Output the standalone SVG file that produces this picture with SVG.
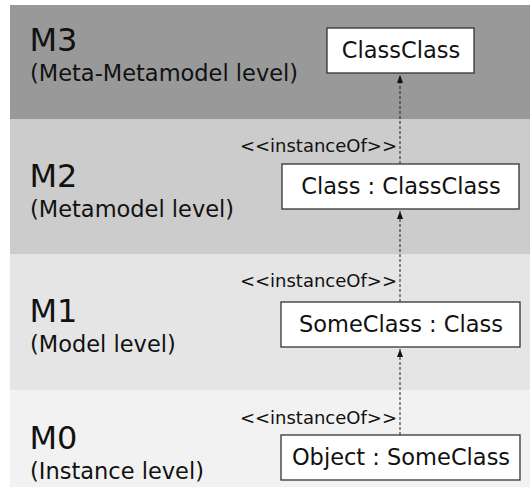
<svg xmlns="http://www.w3.org/2000/svg" width="530" height="497" viewBox="0 0 530 497">
<style>
.lvl{font-family:"DejaVu Sans",sans-serif;font-size:32px;fill:#111}
.sub{font-family:"DejaVu Sans",sans-serif;font-size:22.5px;fill:#111}
.box{fill:#fff;stroke:#333;stroke-width:1.3}
.bt{font-family:"DejaVu Sans",sans-serif;font-size:22.5px;fill:#111;text-anchor:middle}
.io{font-family:"DejaVu Sans",sans-serif;font-size:18px;fill:#111;text-anchor:end}
.dep{stroke:#222;stroke-width:1;stroke-dasharray:3,2;fill:none;marker-end:url(#ah)}
</style>
<defs>
<marker id="ah" viewBox="0 0 8 6" refX="8" refY="3" markerWidth="8" markerHeight="6" markerUnits="userSpaceOnUse" orient="auto">
<path d="M0,0 L8,3 L0,6 Z" fill="#111"/>
</marker>
</defs>
<g id="bands">
<rect x="10" y="5" width="520" height="114" fill="#999999"/>
<rect x="10" y="119" width="520" height="135" fill="#cccccc"/>
<rect x="10" y="254" width="520" height="136" fill="#e5e5e5"/>
<rect x="10" y="390" width="520" height="97" fill="#f2f2f2"/>
</g>
<g id="labels">
<text class="lvl" x="29.5" y="51">M3</text>
<text class="sub" x="30" y="81">(Meta-Metamodel level)</text>
<text class="lvl" x="29.5" y="187">M2</text>
<text class="sub" x="30" y="217">(Metamodel level)</text>
<text class="lvl" x="29.5" y="322">M1</text>
<text class="sub" x="30" y="352">(Model level)</text>
<text class="lvl" x="29.5" y="449">M0</text>
<text class="sub" x="30" y="479">(Instance level)</text>
</g>
<g id="connectors">
<line class="dep" x1="400" y1="164" x2="400" y2="75"/>
<line class="dep" x1="400" y1="302" x2="400" y2="211"/>
<line class="dep" x1="400" y1="435" x2="400" y2="349"/>
<text class="io" x="397" y="152">&lt;&lt;instanceOf&gt;&gt;</text>
<text class="io" x="397" y="287">&lt;&lt;instanceOf&gt;&gt;</text>
<text class="io" x="397" y="424">&lt;&lt;instanceOf&gt;&gt;</text>
</g>
<g id="classclass">
<rect class="box" x="327" y="28" width="147" height="45"/>
<text class="bt" x="401" y="58">ClassClass</text>
</g>
<g id="class">
<rect class="box" x="282" y="164" width="237" height="45"/>
<text class="bt" x="401" y="194">Class : ClassClass</text>
</g>
<g id="someclass">
<rect class="box" x="281" y="302" width="239" height="45"/>
<text class="bt" x="401" y="332">SomeClass : Class</text>
</g>
<g id="object">
<rect class="box" x="281" y="435" width="239" height="45"/>
<text class="bt" x="401" y="465">Object : SomeClass</text>
</g>
</svg>
